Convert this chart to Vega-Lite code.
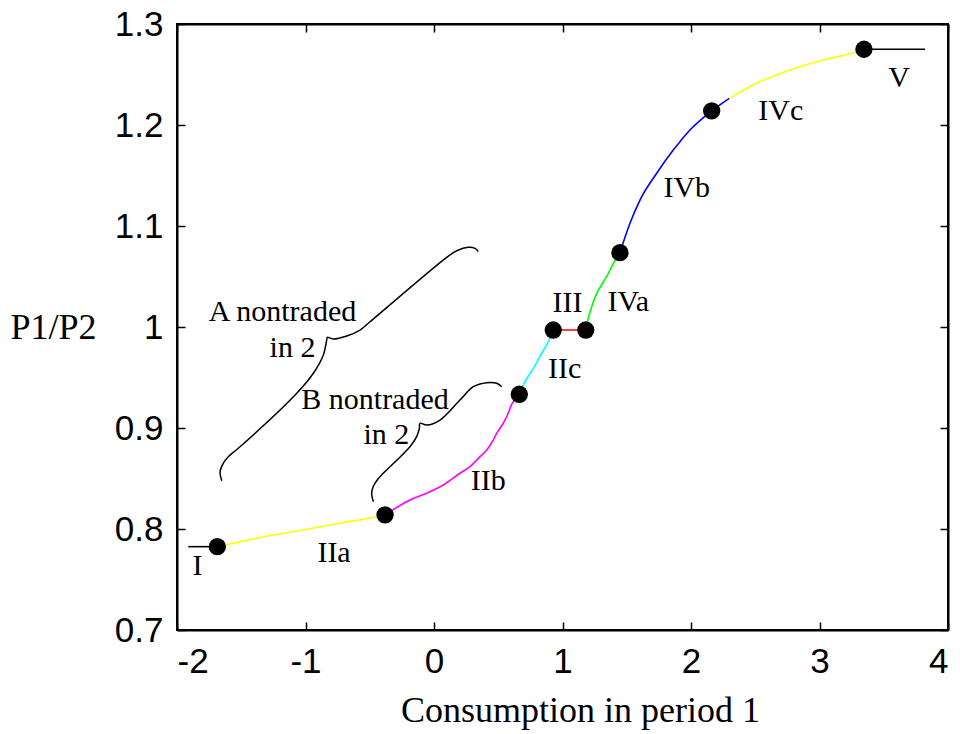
{
  "$schema": "https://vega.github.io/schema/vega-lite/v6.json",
  "width": 771,
  "height": 606,
  "autosize": {"type": "none"},
  "padding": {"left": 177, "top": 24, "right": 12, "bottom": 104},
  "background": "white",
  "config": {
    "view": {"stroke": "black", "strokeWidth": 2},
    "axis": {
      "grid": false,
      "domainColor": "black",
      "domainWidth": 2,
      "tickColor": "black",
      "tickWidth": 1.5,
      "tickSize": -8,
      "labelFont": "Liberation Sans",
      "labelFontSize": 35,
      "labelColor": "black",
      "labelPadding": 22,
      "titleFont": "Liberation Serif",
      "titleFontSize": 36,
      "titleFontWeight": "normal",
      "titleColor": "black"
    }
  },
  "datasets": {
    "curves": [
      {"seg": "I", "i": 0, "x": -1.912, "y": 0.7825},
      {"seg": "I", "i": 1, "x": -1.686, "y": 0.7825},
      {"seg": "IIa", "i": 0, "x": -1.686, "y": 0.7825},
      {"seg": "IIa", "i": 1, "x": -1.276, "y": 0.7935},
      {"seg": "IIa", "i": 2, "x": -1.019, "y": 0.7990},
      {"seg": "IIa", "i": 3, "x": -0.757, "y": 0.8052},
      {"seg": "IIa", "i": 4, "x": -0.498, "y": 0.8109},
      {"seg": "IIa", "i": 5, "x": -0.381, "y": 0.8139},
      {"seg": "IIb", "i": 0, "x": -0.381, "y": 0.8139},
      {"seg": "IIb", "i": 1, "x": -0.187, "y": 0.8287},
      {"seg": "IIb", "i": 2, "x": -0.057, "y": 0.8354},
      {"seg": "IIb", "i": 3, "x": 0.072, "y": 0.8436},
      {"seg": "IIb", "i": 4, "x": 0.202, "y": 0.8552},
      {"seg": "IIb", "i": 5, "x": 0.280, "y": 0.8617},
      {"seg": "IIb", "i": 6, "x": 0.358, "y": 0.8716},
      {"seg": "IIb", "i": 7, "x": 0.410, "y": 0.8782},
      {"seg": "IIb", "i": 8, "x": 0.461, "y": 0.8881},
      {"seg": "IIb", "i": 9, "x": 0.488, "y": 0.8947},
      {"seg": "IIb", "i": 10, "x": 0.539, "y": 0.9047},
      {"seg": "IIb", "i": 11, "x": 0.566, "y": 0.9112},
      {"seg": "IIb", "i": 12, "x": 0.605, "y": 0.9236},
      {"seg": "IIb", "i": 13, "x": 0.664, "y": 0.9334},
      {"seg": "IIc", "i": 0, "x": 0.664, "y": 0.9334},
      {"seg": "IIc", "i": 1, "x": 0.695, "y": 0.9426},
      {"seg": "IIc", "i": 2, "x": 0.773, "y": 0.9591},
      {"seg": "IIc", "i": 3, "x": 0.838, "y": 0.9740},
      {"seg": "IIc", "i": 4, "x": 0.890, "y": 0.9855},
      {"seg": "IIc", "i": 5, "x": 0.928, "y": 0.997},
      {"seg": "III", "i": 0, "x": 0.928, "y": 0.997},
      {"seg": "III", "i": 1, "x": 1.181, "y": 0.997},
      {"seg": "IVa", "i": 0, "x": 1.181, "y": 0.997},
      {"seg": "IVa", "i": 1, "x": 1.201, "y": 1.0086},
      {"seg": "IVa", "i": 2, "x": 1.240, "y": 1.0251},
      {"seg": "IVa", "i": 3, "x": 1.357, "y": 1.0532},
      {"seg": "IVa", "i": 4, "x": 1.396, "y": 1.0631},
      {"seg": "IVa", "i": 5, "x": 1.447, "y": 1.0736},
      {"seg": "IVb", "i": 0, "x": 1.447, "y": 1.0736},
      {"seg": "IVb", "i": 1, "x": 1.525, "y": 1.1027},
      {"seg": "IVb", "i": 2, "x": 1.603, "y": 1.1257},
      {"seg": "IVb", "i": 3, "x": 1.733, "y": 1.1522},
      {"seg": "IVb", "i": 4, "x": 1.862, "y": 1.1752},
      {"seg": "IVb", "i": 5, "x": 1.914, "y": 1.1835},
      {"seg": "IVb", "i": 6, "x": 1.992, "y": 1.195},
      {"seg": "IVb", "i": 7, "x": 2.161, "y": 1.2139},
      {"seg": "IVb", "i": 8, "x": 2.298, "y": 1.2264},
      {"seg": "IVc", "i": 0, "x": 2.298, "y": 1.2264},
      {"seg": "IVc", "i": 1, "x": 2.511, "y": 1.2413},
      {"seg": "IVc", "i": 2, "x": 2.770, "y": 1.2545},
      {"seg": "IVc", "i": 3, "x": 3.030, "y": 1.2644},
      {"seg": "IVc", "i": 4, "x": 3.263, "y": 1.2716},
      {"seg": "IVc", "i": 5, "x": 3.346, "y": 1.275},
      {"seg": "V", "i": 0, "x": 3.346, "y": 1.275},
      {"seg": "V", "i": 1, "x": 3.821, "y": 1.275}
    ],
    "braces": [
      {"b": "A", "i": 0, "x": -1.652, "y": 0.8478},
      {"b": "A", "i": 1, "x": -1.665, "y": 0.8567},
      {"b": "A", "i": 2, "x": -1.640, "y": 0.8650},
      {"b": "A", "i": 3, "x": -1.601, "y": 0.8716},
      {"b": "A", "i": 4, "x": -1.523, "y": 0.8799},
      {"b": "A", "i": 5, "x": -1.068, "y": 0.9344},
      {"b": "A", "i": 6, "x": -0.939, "y": 0.9542},
      {"b": "A", "i": 7, "x": -0.861, "y": 0.9723},
      {"b": "A", "i": 8, "x": -0.835, "y": 0.9871},
      {"b": "A", "i": 9, "x": -0.830, "y": 0.9898},
      {"b": "A", "i": 10, "x": -0.784, "y": 0.9881},
      {"b": "A", "i": 11, "x": -0.679, "y": 0.9911},
      {"b": "A", "i": 12, "x": -0.576, "y": 0.9970},
      {"b": "A", "i": 13, "x": -0.498, "y": 1.0052},
      {"b": "A", "i": 14, "x": 0.099, "y": 1.0690},
      {"b": "A", "i": 15, "x": 0.177, "y": 1.0755},
      {"b": "A", "i": 16, "x": 0.267, "y": 1.0789},
      {"b": "A", "i": 17, "x": 0.319, "y": 1.0779},
      {"b": "A", "i": 18, "x": 0.345, "y": 1.0746},
      {"b": "B", "i": 0, "x": -0.472, "y": 0.8270},
      {"b": "B", "i": 1, "x": -0.485, "y": 0.8353},
      {"b": "B", "i": 2, "x": -0.471, "y": 0.8426},
      {"b": "B", "i": 3, "x": -0.436, "y": 0.8495},
      {"b": "B", "i": 4, "x": -0.395, "y": 0.8551},
      {"b": "B", "i": 5, "x": -0.187, "y": 0.8815},
      {"b": "B", "i": 6, "x": -0.135, "y": 0.8914},
      {"b": "B", "i": 7, "x": -0.114, "y": 0.8997},
      {"b": "B", "i": 8, "x": -0.109, "y": 0.9047},
      {"b": "B", "i": 9, "x": -0.057, "y": 0.9030},
      {"b": "B", "i": 10, "x": 0.047, "y": 0.9079},
      {"b": "B", "i": 11, "x": 0.202, "y": 0.9277},
      {"b": "B", "i": 12, "x": 0.306, "y": 0.9409},
      {"b": "B", "i": 13, "x": 0.410, "y": 0.9449},
      {"b": "B", "i": 14, "x": 0.488, "y": 0.9443},
      {"b": "B", "i": 15, "x": 0.527, "y": 0.9409}
    ],
    "dots": [
      {"x": -1.686, "y": 0.7825},
      {"x": -0.381, "y": 0.8139},
      {"x": 0.664, "y": 0.9334},
      {"x": 0.928, "y": 0.997},
      {"x": 1.181, "y": 0.997},
      {"x": 1.447, "y": 1.0736},
      {"x": 2.161, "y": 1.2139},
      {"x": 3.346, "y": 1.275}
    ],
    "labels": [
      {"t": "I", "x": -1.840, "y": 0.7634},
      {"t": "IIa", "x": -0.778, "y": 0.7762},
      {"t": "IIb", "x": 0.423, "y": 0.8475},
      {"t": "IIc", "x": 1.017, "y": 0.9584},
      {"t": "III", "x": 1.039, "y": 1.0235},
      {"t": "IVa", "x": 1.512, "y": 1.0243},
      {"t": "IVb", "x": 1.967, "y": 1.1381},
      {"t": "IVc", "x": 2.699, "y": 1.2141},
      {"t": "V", "x": 3.619, "y": 1.2470},
      {"t": "A nontraded", "x": -1.179, "y": 1.0151},
      {"t": "in 2", "x": -1.101, "y": 0.9792},
      {"t": "B nontraded", "x": -0.459, "y": 0.9277},
      {"t": "in 2", "x": -0.370, "y": 0.8931}
    ]
  },
  "resolve": {"axis": {"x": "independent", "y": "independent"}},
  "layer": [
    {
      "data": {"name": "curves"},
      "mark": {"type": "line", "strokeWidth": 1.6, "interpolate": "monotone"},
      "encoding": {
        "x": {
          "field": "x", "type": "quantitative",
          "scale": {"domain": [-2, 4], "nice": false, "zero": false},
          "axis": {
            "orient": "bottom",
            "values": [-2, -1, 0, 1, 2, 3, 4],
            "labelExpr": "toString(datum.value)",
            "title": "Consumption in period 1",
            "titleX": 403,
            "titleY": 80,
            "titleAnchor": null,
            "titleAlign": "center",
            "titleBaseline": "middle"
          }
        },
        "y": {
          "field": "y", "type": "quantitative",
          "scale": {"domain": [0.7, 1.3], "nice": false, "zero": false},
          "axis": {
            "orient": "left",
            "values": [0.7, 0.8, 0.9, 1, 1.1, 1.2, 1.3],
            "labelExpr": "toString(datum.value)",
            "title": "P1/P2",
            "titleAngle": 0,
            "titleX": -124,
            "titleY": 303,
            "titleAlign": "center",
            "titleBaseline": "middle"
          }
        },
        "color": {
          "field": "seg", "type": "nominal", "legend": null,
          "scale": {
            "domain": ["I", "IIa", "IIb", "IIc", "III", "IVa", "IVb", "IVc", "V"],
            "range": ["#000000", "#ffff00", "#ff00ff", "#00ffff", "#ff0000", "#00ff00", "#0000ff", "#ffff00", "#000000"]
          }
        },
        "order": {"field": "i", "type": "quantitative"}
      }
    },
    {
      "data": {"name": "braces"},
      "mark": {"type": "line", "strokeWidth": 1.5, "color": "black", "interpolate": "catmull-rom"},
      "encoding": {
        "x": {
          "field": "x", "type": "quantitative",
          "axis": {"orient": "top", "values": [-2, -1, 0, 1, 2, 3, 4], "labels": false, "title": null}
        },
        "y": {
          "field": "y", "type": "quantitative",
          "axis": {"orient": "right", "values": [0.7, 0.8, 0.9, 1, 1.1, 1.2, 1.3], "labels": false, "title": null}
        },
        "detail": {"field": "b", "type": "nominal"},
        "order": {"field": "i", "type": "quantitative"}
      }
    },
    {
      "data": {"name": "dots"},
      "mark": {"type": "circle", "size": 300, "color": "black", "opacity": 1},
      "encoding": {
        "x": {"field": "x", "type": "quantitative", "axis": null},
        "y": {"field": "y", "type": "quantitative", "axis": null}
      }
    },
    {
      "data": {"name": "labels"},
      "mark": {"type": "text", "font": "Liberation Serif", "fontSize": 30, "color": "black", "align": "center", "baseline": "middle"},
      "encoding": {
        "x": {"field": "x", "type": "quantitative", "axis": null},
        "y": {"field": "y", "type": "quantitative", "axis": null},
        "text": {"field": "t", "type": "nominal"}
      }
    }
  ]
}
